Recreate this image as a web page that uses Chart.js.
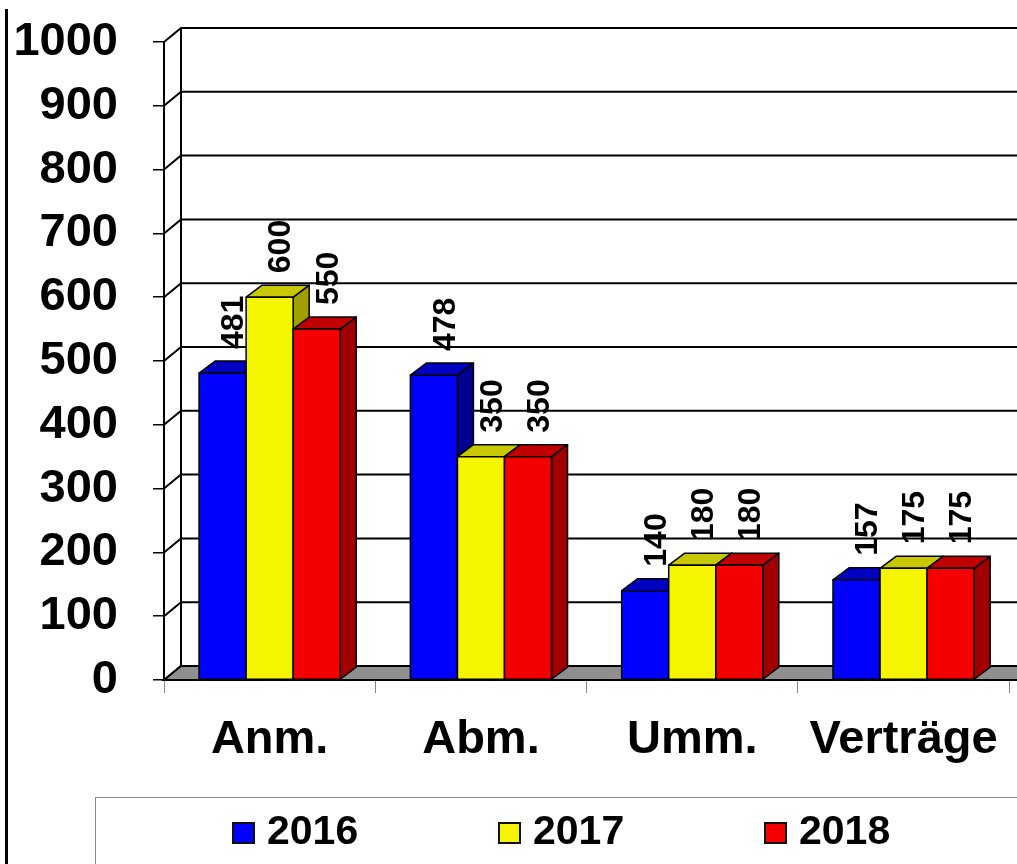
<html>
<head>
    <meta charset="UTF-8">
    <title>Anmeldungen 2016 - 2018</title>
    <style>
        body { margin: 0; background: #fff; font-family: "Liberation Sans", Arial, sans-serif; }
        #wrap { position: relative; width: 1017px; height: 864px; overflow: hidden; }
        #leftLine { position: absolute; left: 5px; top: 9px; width: 3px; height: 860px; background: #000; }
        #legend { position: absolute; left: 95px; top: 797px; width: 1000px; height: 100px; border: 1px solid #8a8a8a; box-sizing: border-box; }
        .lbox { position: absolute; top: 822px; width: 19px; height: 18px; border: 2px solid #111; }
        .ltxt { position: absolute; top: 810px; font-size: 41px; line-height: 41px; font-weight: bold; color: #000; }
    </style>
</head>
<body>
<div id="wrap">
    <canvas id="chart" width="1017" height="864"></canvas>
    <div id="leftLine"></div>
    <div id="legend"></div>
</div>
<script src="https://cdn.jsdelivr.net/npm/chart.js"></script>
<script>
    const categories = ['Anm.', 'Abm.', 'Umm.', 'Verträge'];
    const years = ['2016', '2017', '2018'];
    const values2016 = [481, 478, 140, 157];
    const values2017 = [600, 350, 180, 175];
    const values2018 = [550, 350, 180, 175];
    const yMin = 0, yMax = 1000, yStep = 100;

    // front / top / side colours per series
    const faces = [
        ['#0000FF', '#0000C0', '#000090'],
        ['#F5F500', '#C8C800', '#A0A000'],
        ['#F50000', '#C00000', '#A00000']
    ];
    const FONT = '"Liberation Sans", Arial, sans-serif';
    const WALL_DX = 17, WALL_DY = 14;   // depth of the walls
    const BAR_DX = 16, BAR_DY = 12;     // depth of the bars

    const threeD = {
        id: 'threeD',
        beforeDatasetsDraw(chart) {
            const ctx = chart.ctx, a = chart.chartArea, y = chart.scales.y;
            const W = chart.width + 5;
            ctx.save();
            ctx.strokeStyle = '#000';
            ctx.lineWidth = 2;
            ctx.beginPath();
            y.ticks.forEach(t => {
                const py = y.getPixelForValue(t.value);
                ctx.moveTo(a.left, py);
                ctx.lineTo(a.left + WALL_DX, py - WALL_DY);
                ctx.lineTo(W, py - WALL_DY);
            });
            ctx.moveTo(a.left + WALL_DX, a.top - WALL_DY);
            ctx.lineTo(a.left + WALL_DX, a.bottom - WALL_DY);
            ctx.stroke();

            // floor
            ctx.beginPath();
            ctx.moveTo(a.left, a.bottom);
            ctx.lineTo(a.left + WALL_DX, a.bottom - WALL_DY);
            ctx.lineTo(W, a.bottom - WALL_DY);
            ctx.lineTo(W, a.bottom);
            ctx.closePath();
            ctx.fillStyle = '#8f8f8f';
            ctx.fill();
            ctx.stroke();
            ctx.restore();
        },
        afterDatasetsDraw(chart) {
            const ctx = chart.ctx;
            ctx.save();
            ctx.strokeStyle = '#000';
            ctx.lineWidth = 1.5;
            ctx.lineJoin = 'round';
            categories.forEach((c, i) => {
                chart.data.datasets.forEach((ds, d) => {
                    const bar = chart.getDatasetMeta(d).data[i];
                    const p = bar.getProps(['x', 'y', 'base', 'width'], true);
                    const l = p.x - p.width / 2, r = p.x + p.width / 2;
                    const top = p.y, base = p.base;
                    // side face
                    ctx.beginPath();
                    ctx.moveTo(r, top);
                    ctx.lineTo(r + BAR_DX, top - BAR_DY);
                    ctx.lineTo(r + BAR_DX, base - BAR_DY);
                    ctx.lineTo(r, base);
                    ctx.closePath();
                    ctx.fillStyle = faces[d][2];
                    ctx.fill(); ctx.stroke();
                    // top face
                    ctx.beginPath();
                    ctx.moveTo(l, top);
                    ctx.lineTo(l + BAR_DX, top - BAR_DY);
                    ctx.lineTo(r + BAR_DX, top - BAR_DY);
                    ctx.lineTo(r, top);
                    ctx.closePath();
                    ctx.fillStyle = faces[d][1];
                    ctx.fill(); ctx.stroke();
                    // front face
                    ctx.fillStyle = faces[d][0];
                    ctx.fillRect(l, top, p.width, base - top);
                    ctx.strokeRect(l, top, p.width, base - top);
                });
            });

            // value labels, rotated
            ctx.fillStyle = '#000';
            ctx.font = 'bold 32px ' + FONT;
            ctx.textAlign = 'left';
            ctx.textBaseline = 'middle';
            chart.data.datasets.forEach((ds, d) => {
                chart.getDatasetMeta(d).data.forEach((bar, i) => {
                    ctx.save();
                    ctx.translate(bar.x + 12, bar.y - 24);
                    ctx.rotate(-Math.PI / 2);
                    ctx.fillText(String(ds.data[i]), 0, 0);
                    ctx.restore();
                });
            });
            ctx.restore();
        }
    };

    const seriesValues = [values2016, values2017, values2018];
    const ctx = document.getElementById('chart').getContext('2d');
    const chart = new Chart(ctx, {
        type: 'bar',
        data: {
            labels: categories,
            datasets: years.map((yr, k) => ({
                label: yr,
                data: seriesValues[k],
                backgroundColor: faces[k][0],
                borderColor: '#000',
                borderWidth: 1.5,
                categoryPercentage: 0.668,
                barPercentage: 1
            }))
        },
        options: {
            responsive: false,
            animation: false,
            layout: { padding: { top: 42, right: 3, bottom: 67, left: 0 } },
            plugins: {
                legend: { display: false },
                tooltip: { enabled: false }
            },
            scales: {
                x: {
                    grid: { drawOnChartArea: false, drawTicks: true, tickLength: 13, color: '#888', offset: true },
                    border: { display: false },
                    ticks: { color: '#000', font: { family: FONT, size: 47, weight: 'bold' }, padding: 19, maxRotation: 0 },
                    afterFit(s) { s.height = 117; }
                },
                y: {
                    min: yMin, max: yMax,
                    grid: { drawOnChartArea: false, drawTicks: true, tickLength: 11, color: '#000', lineWidth: 1.5 },
                    border: { display: true, color: '#000', width: 2 },
                    ticks: {
                        stepSize: yStep, color: '#000', padding: 35,
                        font: { family: FONT, size: 47, weight: 'bold' },
                        callback: v => String(v)
                    },
                    afterFit(s) { s.width = 164; s.paddingTop = 20; s.paddingBottom = 20; }
                }
            }
        },
        plugins: [threeD]
    });

    // legend
    const legend = document.getElementById('wrap');
    years.forEach((yr, k) => {
        const box = document.createElement('div');
        box.className = 'lbox';
        box.style.left = (232 + k * 266) + 'px';
        box.style.background = faces[k][0];
        legend.appendChild(box);
        const txt = document.createElement('div');
        txt.className = 'ltxt';
        txt.style.left = (267 + k * 266) + 'px';
        txt.textContent = yr;
        legend.appendChild(txt);
    });
</script>
</body>
</html>
